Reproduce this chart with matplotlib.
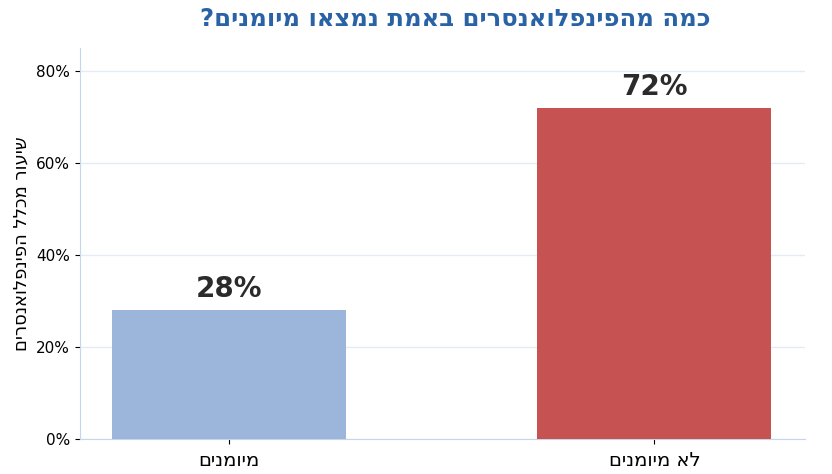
import matplotlib
matplotlib.use("Agg")
import matplotlib.pyplot as plt
from matplotlib.ticker import PercentFormatter

# data
categories = ["מיומנים", "לא מיומנים"]
values = [28, 72]
colors = ["#9bb6da", "#c65352"]
title = "כמה מהפינפלואנסרים באמת נמצאו מיומנים?"
ylabel = "שיעור מכלל הפינפלואנסרים"


def rtl(s):
    # matplotlib has no bidi support, so flip Hebrew for display
    return s[::-1]


plt.rcParams['font.family'] = ['DejaVu Sans']

fig = plt.figure(figsize=(8.32, 4.74), dpi=100)
ax = fig.add_axes([0.096, 0.074, 0.872, 0.825])

x = list(range(len(categories)))
bars = ax.bar(x, values, width=0.55, color=colors, zorder=3)

for b, v in zip(bars, values):
    ax.text(b.get_x() + b.get_width() / 2, v + 1.5, f"{v}%", ha="center", va="bottom",
            fontsize=20, fontweight="bold", color="#2b2b2b")

ax.set_xlim(-0.35, 1.355)
ax.set_ylim(0, 85)
ax.set_yticks([0, 20, 40, 60, 80])
ax.yaxis.set_major_formatter(PercentFormatter(decimals=0))
ax.set_xticks(x)
ax.set_xticklabels([rtl(c) for c in categories], fontsize=14)
ax.tick_params(axis="x", pad=5)
ax.tick_params(axis="y", labelsize=11)
ax.set_ylabel(rtl(ylabel), fontsize=13, labelpad=4)
ax.set_title(rtl(title), fontsize=17.5, fontweight="bold", color="#2a62a6", pad=16, x=0.517)

ax.grid(axis="y", color="#e4ebf4", linewidth=1, zorder=0)
for s in ["top", "right"]:
    ax.spines[s].set_visible(False)
for s in ["left", "bottom"]:
    ax.spines[s].set_color("#c6d6ea")

fig.savefig("out.png", dpi=100)
